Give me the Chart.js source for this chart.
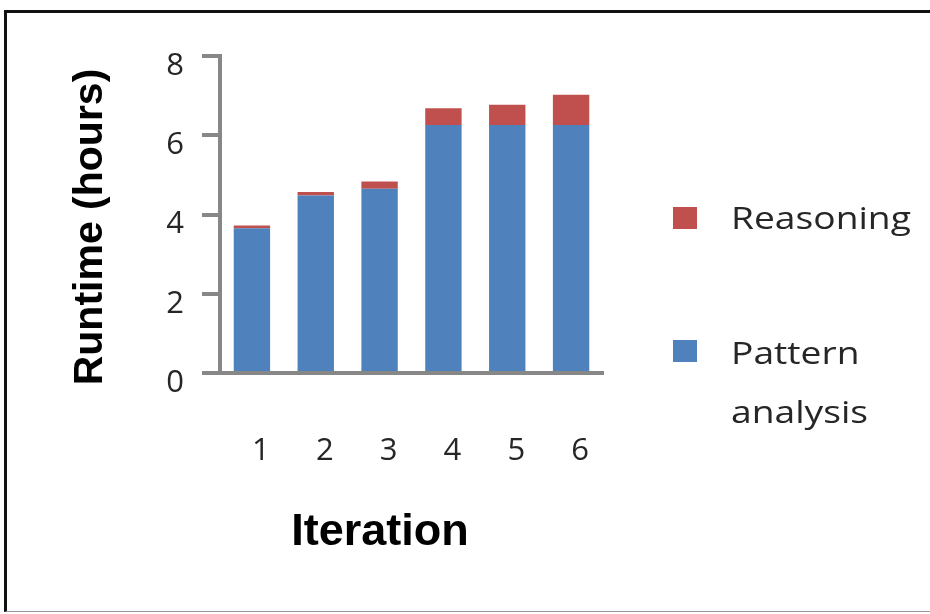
<!DOCTYPE html>
<html lang="en">
<head>
    <meta charset="UTF-8">
    <title>Runtime per iteration</title>
    <style>
        body {
            margin: 0;
            background-color: #FFFFFF;
            overflow: hidden;
        }
        #frame {
            position: absolute;
            left: 4px;
            top: 10px;
            width: 940px;
            height: 598px;
            border-top: 3px solid #111111;
            border-left: 3px solid #111111;
            border-bottom: 1px solid #9A9A9A;
        }
        #myChart {
            position: absolute;
            left: 0;
            top: 0;
        }
    </style>
    <script src="https://cdn.jsdelivr.net/npm/chart.js"></script>
</head>
<body>
    <div id="frame"></div>
    <canvas id="myChart" width="930" height="614"></canvas>

    <script>
        // Werte
        var iterations = ['1', '2', '3', '4', '5', '6'];
        var patternAnalysis = [3.65, 4.48, 4.65, 6.26, 6.26, 6.26];
        var reasoning = [0.07, 0.09, 0.18, 0.42, 0.51, 0.76];
        var seriesNames = ['Pattern analysis', 'Reasoning'];
        var yTicks = [0, 2, 4, 6, 8];
        var xTitle = 'Iteration';
        var yTitle = 'Runtime (hours)';

        var axisGrey = '#878787';
        var textColor = '#262626';

        // Achsentitel und Legende selbst zeichnen (Position wie im Original)
        var extras = {
            id: 'extras',
            afterDraw: function(chart) {
                var ctx = chart.ctx;
                ctx.save();
                ctx.fillStyle = '#000000';
                ctx.font = 'bold 41px "Liberation Sans", Arial, sans-serif';
                ctx.textAlign = 'center';
                ctx.textBaseline = 'alphabetic';
                ctx.save();
                ctx.translate(102, 227);
                ctx.rotate(-Math.PI / 2);
                ctx.fillText(yTitle, 0, 0);
                ctx.restore();
                ctx.font = 'bold 45px "Liberation Sans", Arial, sans-serif';
                ctx.fillText(xTitle, 380, 545);

                // Legende, umgekehrte Reihenfolge (oben Reasoning)
                var items = chart.data.datasets.slice().reverse();
                var boxTops = [207, 340];
                var firstBaselines = [229, 364];
                ctx.font = '31px "Open Sans", sans-serif';
                ctx.textAlign = 'left';
                items.forEach(function(ds, i) {
                    ctx.fillStyle = ds.backgroundColor;
                    ctx.fillRect(673, boxTops[i], 24, 22);
                    ctx.fillStyle = textColor;
                    var words = ds.label.split(' ');
                    words.forEach(function(w, j) {
                        ctx.save();
                        ctx.translate(731, firstBaselines[i] + j * 59);
                        ctx.scale(1.2, 1);
                        ctx.fillText(w, 0, 0);
                        ctx.restore();
                    });
                });
                ctx.restore();
            }
        };

        var ctx = document.getElementById('myChart').getContext('2d');
        var myChart = new Chart(ctx, {
            type: 'bar',
            data: {
                labels: iterations,
                datasets: [{
                    label: seriesNames[0],
                    data: patternAnalysis,
                    backgroundColor: '#4F81BD',
                    categoryPercentage: 1.0,
                    barPercentage: 0.57
                }, {
                    label: seriesNames[1],
                    data: reasoning,
                    backgroundColor: '#C0504D',
                    categoryPercentage: 1.0,
                    barPercentage: 0.57
                }]
            },
            options: {
                responsive: false,
                animation: false,
                layout: {
                    padding: { left: 0, top: 56, right: 327, bottom: 0 }
                },
                plugins: {
                    legend: { display: false },
                    tooltip: { enabled: false }
                },
                scales: {
                    x: {
                        stacked: true,
                        afterFit: function(scale) { scale.height = 241; },
                        grid: { drawOnChartArea: false, drawTicks: false },
                        border: { color: axisGrey, width: 4 },
                        ticks: {
                            color: textColor,
                            font: { family: '"Open Sans", sans-serif', size: 31 },
                            padding: 60,
                            labelOffset: 9
                        }
                    },
                    y: {
                        stacked: true,
                        min: 0,
                        max: 8,
                        afterFit: function(scale) { scale.width = 220; },
                        afterBuildTicks: function(scale) {
                            scale.ticks = yTicks.map(function(v) { return { value: v }; });
                        },
                        grid: {
                            drawOnChartArea: false,
                            drawTicks: true,
                            tickLength: 18,
                            color: axisGrey,
                            lineWidth: 4
                        },
                        border: { color: axisGrey, width: 4 },
                        ticks: {
                            color: textColor,
                            font: { family: '"Open Sans", sans-serif', size: 31 },
                            padding: 18,
                            labelOffset: 10
                        }
                    }
                }
            },
            plugins: [extras]
        });
    </script>
</body>
</html>
